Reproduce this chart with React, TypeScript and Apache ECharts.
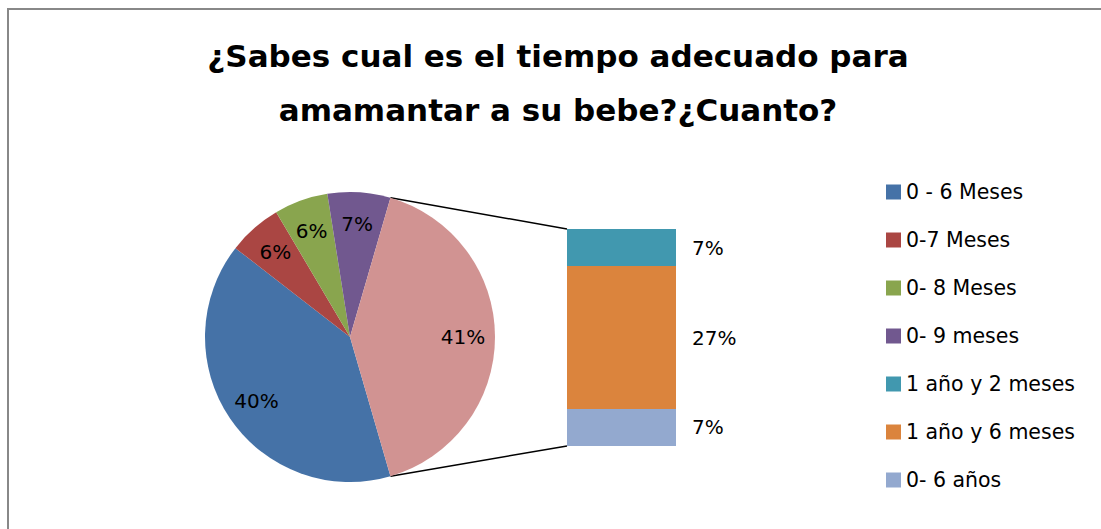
import React, { useEffect, useRef } from 'react';
import * as echarts from 'echarts';

const pieNames = ['0 - 6 Meses', '0-7 Meses', '0- 8 Meses', '0- 9 meses'];
const pieValues = [40, 6, 6, 7];
const otherName = 'Otros';
const barNames = ['1 año y 2 meses', '1 año y 6 meses', '0- 6 años'];
const barValues = [7, 27, 7];
const pieColors = ['#4572A7', '#AA4643', '#89A54E', '#71588F'];
const otherColor = '#D19392';
const barColors = ['#4198AF', '#DB843D', '#93A9CF'];
const titleText = '¿Sabes cual es el tiempo adecuado para\namamantar a su bebe?¿Cuanto?';

const FONT = '"DejaVu Sans", sans-serif';
const CX = 350;
const CY = 337;
const R = 145;

export default function App() {
  const ref = useRef<HTMLDivElement>(null);
  useEffect(() => {
    if (!ref.current) return;
    const chart = echarts.init(ref.current, undefined, { renderer: 'svg' });
    const otherSum = barValues.reduce((a, b) => a + b, 0);
    const pieSum = pieValues.reduce((a, b) => a + b, 0);
    const total = otherSum + pieSum;
    const otherDeg = (otherSum / total) * 360;
    const pinkStartCW = 90 - otherDeg / 2;
    const pinkEndCW = 90 + otherDeg / 2;
    const theta0 = pinkStartCW - (pieSum / total) * 360;
    const startAngle = 90 - theta0;

    const pieData = pieNames
      .map((n, i) => ({ name: n, value: pieValues[i], itemStyle: { color: pieColors[i] } }))
      .concat([{ name: otherName, value: otherSum, itemStyle: { color: otherColor } }]);

    const barSeries = barNames
      .map((n, i) => ({
        name: n,
        type: 'bar',
        stack: 'otros',
        barWidth: '100%',
        data: [barValues[i]],
        itemStyle: { color: barColors[i] },
        silent: true,
        label: {
          show: true,
          position: 'right',
          distance: 16,
          formatter: '{c}%',
          fontFamily: FONT,
          fontSize: 20,
          color: '#000',
        },
      }))
      .reverse();

    chart.setOption({
      animation: false,
      title: {
        text: titleText,
        left: 553,
        textAlign: 'center',
        top: 24,
        textStyle: { fontFamily: FONT, fontSize: 31, fontWeight: 'bold', color: '#000', lineHeight: 54 },
      },
      legend: {
        orient: 'vertical',
        left: 881,
        top: 176,
        itemWidth: 15,
        itemHeight: 15,
        itemGap: 26,
        icon: 'rect',
        data: [...pieNames, ...barNames],
        selectedMode: false,
        textStyle: { fontFamily: FONT, fontSize: 20.5, color: '#000', lineHeight: 22 },
      },
      grid: { left: 567, top: 229, width: 109, height: 217 },
      xAxis: { type: 'category', data: [otherName], show: false },
      yAxis: { type: 'value', min: 0, max: otherSum, show: false },
      series: [
        {
          type: 'pie',
          center: [CX, CY],
          radius: R,
          startAngle,
          clockwise: true,
          silent: true,
          avoidLabelOverlap: false,
          label: { show: false },
          labelLine: { show: false },
          itemStyle: { borderWidth: 0 },
          data: pieData,
        },
        {
          type: 'pie',
          center: [CX, CY],
          radius: [75, R],
          startAngle,
          clockwise: true,
          silent: true,
          avoidLabelOverlap: false,
          itemStyle: { color: 'rgba(0,0,0,0)', borderWidth: 0 },
          label: {
            show: true,
            position: 'inside',
            formatter: '{c}%',
            fontFamily: FONT,
            fontSize: 20,
            color: '#000',
          },
          labelLine: { show: false },
          data: pieData.map((d) => ({ name: d.name, value: d.value, itemStyle: { color: 'rgba(0,0,0,0)' } })),
        },
        ...barSeries,
      ],
    });

    const xc = chart.convertToPixel({ xAxisIndex: 0 }, otherName) as number;
    const barLeft = xc - 109 / 2;
    const yTop = chart.convertToPixel({ yAxisIndex: 0 }, otherSum) as number;
    const yBot = chart.convertToPixel({ yAxisIndex: 0 }, 0) as number;
    const pt = (deg: number) => {
      const a = (deg * Math.PI) / 180;
      return [CX + R * Math.sin(a), CY - R * Math.cos(a)];
    };
    const p1 = pt(pinkStartCW);
    const p2 = pt(pinkEndCW);

    chart.setOption({
      graphic: [
        {
          type: 'rect',
          shape: { x: 8, y: 9, width: 1300, height: 700 },
          style: { fill: 'none', stroke: '#888888', lineWidth: 2 },
          silent: true,
        },
        {
          type: 'line',
          shape: { x1: p1[0], y1: p1[1], x2: barLeft, y2: yTop },
          style: { stroke: '#000', lineWidth: 1.5 },
          silent: true,
        },
        {
          type: 'line',
          shape: { x1: p2[0], y1: p2[1], x2: barLeft, y2: yBot },
          style: { stroke: '#000', lineWidth: 1.5 },
          silent: true,
        },
      ],
    });

    return () => chart.dispose();
  }, []);
  return <div ref={ref} style={{ position: 'absolute', left: 0, top: 0, width: 1101, height: 529 }} />;
}
